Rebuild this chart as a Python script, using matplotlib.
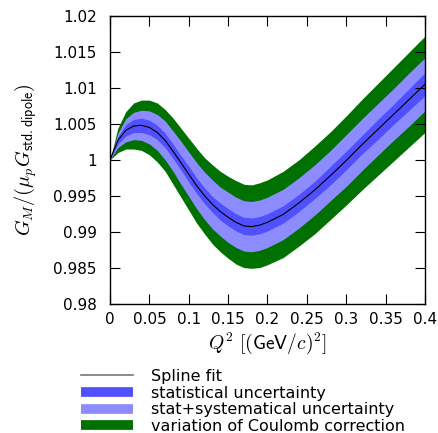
import matplotlib
matplotlib.use('Agg')
import matplotlib.pyplot as plt
from matplotlib.lines import Line2D
from matplotlib.ticker import FormatStrFormatter
import numpy as np

# data
q2 = [0.00, 0.01, 0.02, 0.03, 0.04, 0.05, 0.06, 0.07, 0.08, 0.09,
      0.10, 0.11, 0.12, 0.13, 0.14, 0.15, 0.16, 0.17, 0.18, 0.19,
      0.20, 0.22, 0.24, 0.26, 0.28, 0.30, 0.32, 0.34, 0.36, 0.38, 0.40]
spline = [1.0000, 1.0027, 1.0041, 1.0047, 1.0048, 1.0045, 1.0038, 1.0027, 1.0012, 0.9996,
          0.9980, 0.9964, 0.9950, 0.9938, 0.9928, 0.9920, 0.9913, 0.9908, 0.9907, 0.9909,
          0.9913, 0.9924, 0.9940, 0.9958, 0.9978, 0.9999, 1.0021, 1.0042, 1.0063, 1.0084, 1.0105]
stat_err = [0.0, 0.0005, 0.0008, 0.0009, 0.0010, 0.0010, 0.0010, 0.0010, 0.0010, 0.0010,
            0.0011, 0.0011, 0.0011, 0.0011, 0.0012, 0.0012, 0.0012, 0.0012, 0.0012, 0.0012,
            0.0012, 0.0012, 0.0012, 0.0012, 0.0013, 0.0013, 0.0013, 0.0014, 0.0014, 0.0015, 0.0016]
total_err = [0.0, 0.0010, 0.0016, 0.0019, 0.0021, 0.0023, 0.0025, 0.0027, 0.0028, 0.0030,
             0.0031, 0.0032, 0.0033, 0.0034, 0.0034, 0.0035, 0.0035, 0.0035, 0.0035, 0.0035,
             0.0035, 0.0035, 0.0035, 0.0035, 0.0035, 0.0036, 0.0036, 0.0036, 0.0036, 0.0037, 0.0037]
coulomb_err = [0.0, 0.0017, 0.0026, 0.0032, 0.0035, 0.0038, 0.0041, 0.0043, 0.0046, 0.0048,
               0.0050, 0.0052, 0.0053, 0.0055, 0.0056, 0.0057, 0.0058, 0.0058, 0.0058, 0.0059,
               0.0059, 0.0060, 0.0060, 0.0061, 0.0061, 0.0062, 0.0063, 0.0064, 0.0065, 0.0066, 0.0067]
labels = ['Spline fit', 'statistical uncertainty',
          'stat+systematical uncertainty', 'variation of Coulomb correction']

c_stat = '#5050ff'
c_total = '#8c8cff'
c_coul = '#007000'

plt.rcParams['font.family'] = 'DejaVu Sans'
plt.rcParams['mathtext.fontset'] = 'cm'
plt.rcParams['font.size'] = 11

x = np.array(q2)
y = np.array(spline)
s = np.array(stat_err)
t = np.array(total_err)
c = np.array(coulomb_err)

fig = plt.figure(figsize=(4.39, 4.33), dpi=100)
ax = fig.add_axes([0.2506, 0.299, 0.7174, 0.664])

ax.fill_between(x, y - c, y + c, color=c_coul, lw=0)
ax.fill_between(x, y - t, y + t, color=c_total, lw=0)
ax.fill_between(x, y - s, y + s, color=c_stat, lw=0)
ax.plot(x, y, color='black', lw=0.8)

ax.set_xlim(0, 0.4)
ax.set_ylim(0.98, 1.02)
ax.set_xticks(np.arange(0, 0.401, 0.05))
ax.set_yticks(np.arange(0.98, 1.0201, 0.005))
ax.xaxis.set_major_formatter(FormatStrFormatter('%g'))
ax.yaxis.set_major_formatter(FormatStrFormatter('%g'))
ax.tick_params(direction='in', length=7, width=0.8, top=True, right=True)
ax.tick_params(axis='y', pad=9.5)
ax.tick_params(axis='x', pad=6)
for sp in ax.spines.values():
    sp.set_linewidth(1.0)

ax.set_xlabel(r'$Q^2\ [(\mathsf{GeV}/c)^2]$', fontsize=14, labelpad=3)
ax.set_ylabel(r'$G_M/(\mu_p G_{\mathsf{std.dipole}})$', fontsize=14.5, labelpad=10)

handles = [Line2D([], [], color='#777777', lw=1.2),
           Line2D([], [], color=c_stat, lw=7, solid_capstyle='butt'),
           Line2D([], [], color=c_total, lw=7, solid_capstyle='butt'),
           Line2D([], [], color=c_coul, lw=7, solid_capstyle='butt')]
fig.legend(handles, labels, loc='upper left', bbox_to_anchor=(0.184, 0.148),
           frameon=False, fontsize=11.5, handlelength=3.3, handletextpad=1.1,
           labelspacing=0.1, borderpad=0, borderaxespad=0)

fig.savefig('out.png', dpi=100)
